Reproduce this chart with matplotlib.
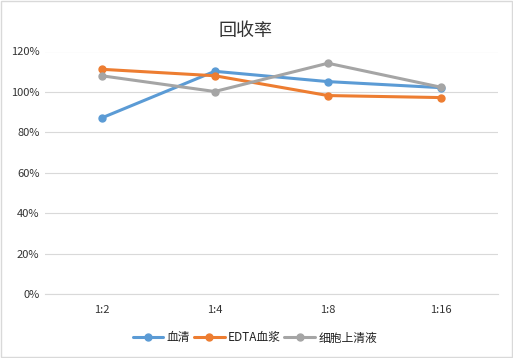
import matplotlib
matplotlib.use("Agg")
import matplotlib.pyplot as plt
from matplotlib.ticker import PercentFormatter

plt.rcParams['font.family'] = ['Noto Sans CJK SC', 'DejaVu Sans']

categories = ["1:2", "1:4", "1:8", "1:16"]
serum = [87.1, 110.2, 105.1, 102.1]
edta = [111.2, 108.0, 98.2, 97.2]
supernatant = [108.0, 100.2, 114.2, 102.3]
series_names = ["血清", "EDTA血浆", "细胞上清液"]
colors = ["#5B9BD5", "#ED7D31", "#A5A5A5"]

fig = plt.figure(figsize=(5.13, 3.58), dpi=100)
ax = fig.add_axes([45/513, 1-294/358, (497.7-45)/513, (294-51.5)/358])

x = list(range(len(categories)))
for vals, name, c in zip([serum, edta, supernatant], series_names, colors):
    ax.plot(x, vals, color=c, lw=2.2, marker='o', ms=5, label=name, solid_capstyle='round')

ax.set_xlim(-0.5, 3.5)
ax.set_ylim(0, 120)
ax.set_yticks(range(0, 121, 20))
ax.yaxis.set_major_formatter(PercentFormatter(decimals=0))
ax.set_xticks(x)
ax.set_xticklabels(categories)
ax.grid(axis='y', color='#D9D9D9', lw=0.8)
ax.set_axisbelow(True)
for s in ['left', 'right', 'top']:
    ax.spines[s].set_visible(False)
ax.spines['bottom'].set_color('#D9D9D9')
ax.tick_params(axis='both', length=0, labelsize=8, colors='#333333')
ax.tick_params(axis='x', pad=8)
ax.tick_params(axis='y', pad=4)

fig.text(246/513, 1-31/358, "回收率", ha='center', va='center', fontsize=13, color='#333333')

leg = fig.legend(loc='center', bbox_to_anchor=(255/513, 1-338/358), ncol=3, frameon=False,
                 fontsize=8.5, handlelength=2.6, columnspacing=0.3, handletextpad=0.3)
for t in leg.get_texts():
    t.set_color('#222222')

fig.patches.append(plt.Rectangle((0.002, 0.003), 0.996, 0.994, transform=fig.transFigure,
                                 fill=False, edgecolor='#D9D9D9', lw=1))
fig.savefig("out.png", dpi=100)
